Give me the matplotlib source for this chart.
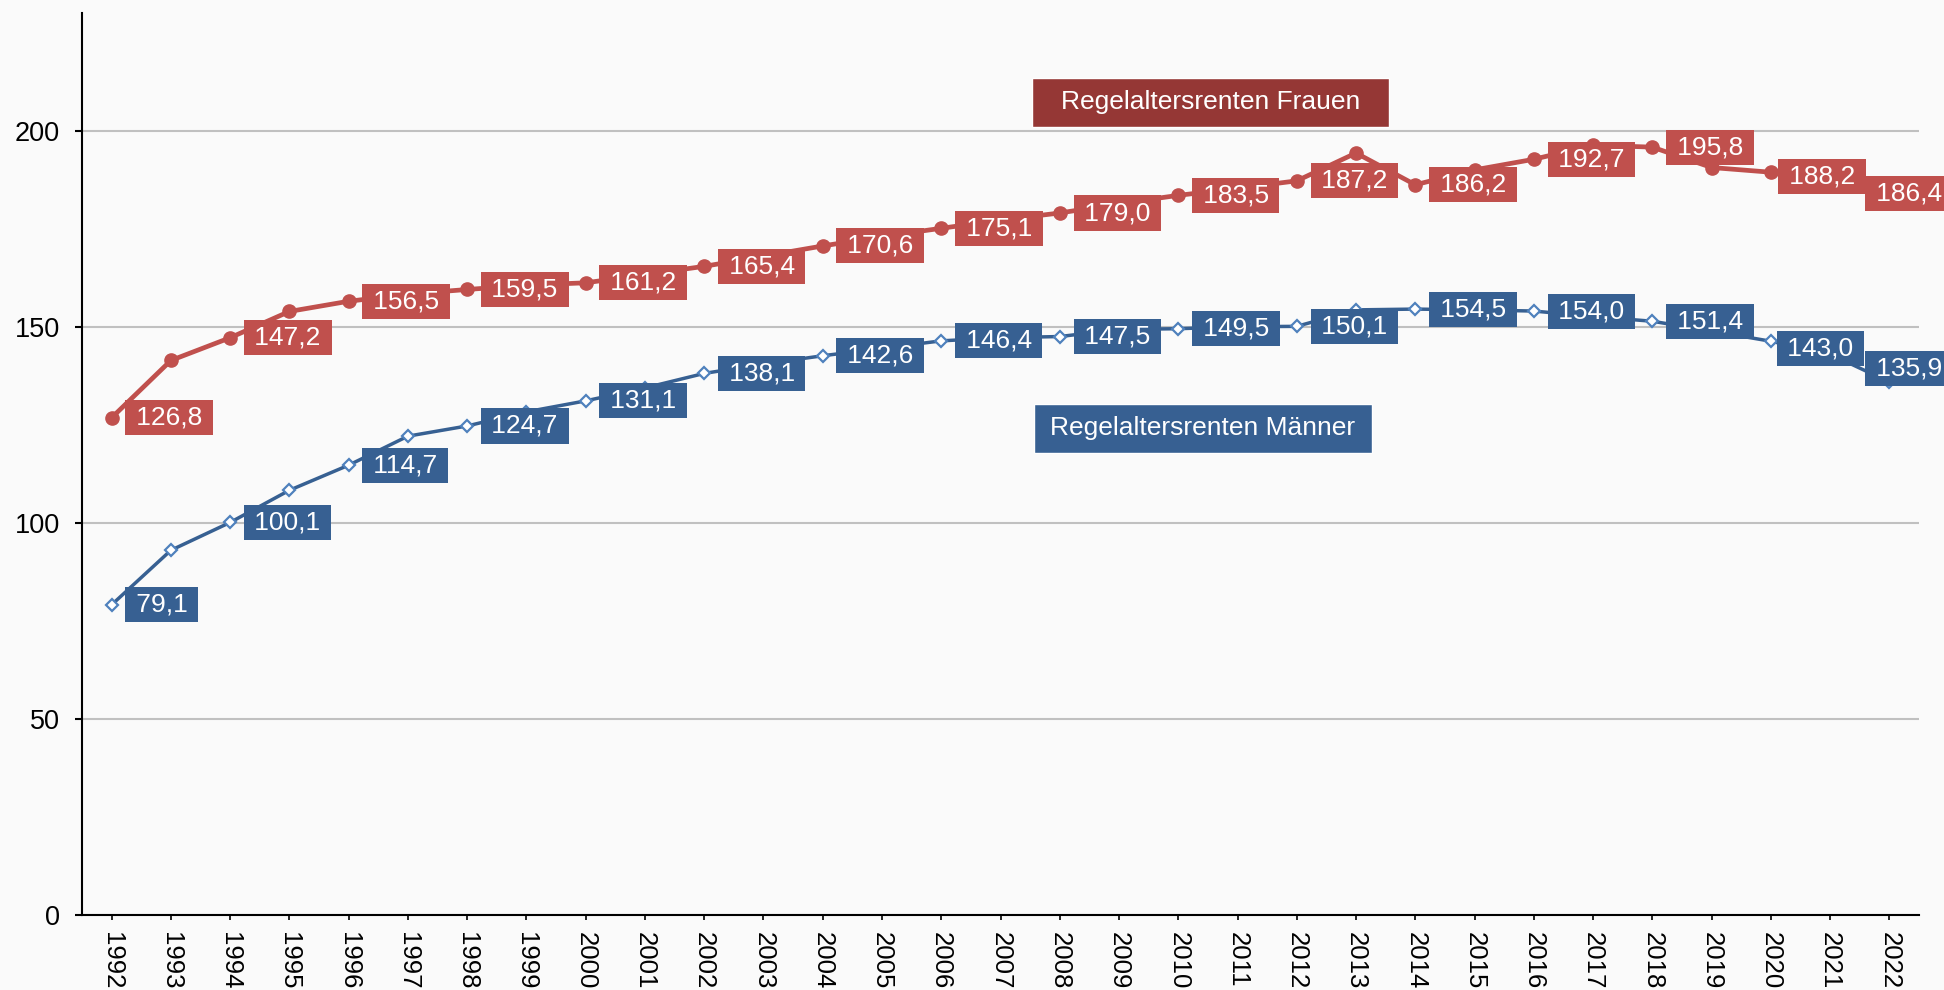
import matplotlib
matplotlib.use("Agg")
import matplotlib.pyplot as plt
from matplotlib.patches import Rectangle

plt.rcParams['font.family'] = ['Liberation Sans', 'DejaVu Sans']

years = list(range(1992, 2023))
frauen = [126.8, 141.4, 147.2, 153.9, 156.5, 158.3, 159.5, 160.6, 161.2, 163.3,
          165.4, 168.0, 170.6, 173.0, 175.1, 177.2, 179.0, 181.4, 183.5, 185.3,
          187.2, 194.3, 186.2, 190.0, 192.7, 196.3, 195.8, 190.6, 189.4, 188.2,
          186.4]
maenner = [79.1, 93.0, 100.1, 108.3, 114.7, 122.1, 124.7, 128.3, 131.1, 134.4,
           138.1, 140.5, 142.6, 144.5, 146.4, 147.2, 147.5, 149.3, 149.5, 150.0,
           150.1, 154.3, 154.5, 154.3, 154.0, 152.6, 151.4, 148.9, 146.3, 143.0,
           135.9]
label_years = list(range(1992, 2019, 2)) + [2021, 2022]
series_names = ["Regelaltersrenten Frauen", "Regelaltersrenten Männer"]
yticks = [0, 50, 100, 150, 200]

RED = "#C0504D"
DARKRED = "#953735"
BLUE = "#376092"
LIGHTBLUE = "#4F81BD"
BG = "#FAFAFA"

fig = plt.figure(figsize=(19.44, 9.90), dpi=100, facecolor=BG)
ax = fig.add_axes([82/1944, 75/990, (1919-82)/1944, (915-13)/990])
ax.set_facecolor(BG)

ax.plot(years, frauen, color=RED, lw=3.4, marker='o', ms=9.5,
        mfc=RED, mec=RED, zorder=3, clip_on=False)
ax.plot(years, maenner, color=BLUE, lw=2.5, marker='D', ms=6.2,
        mfc='white', mec=LIGHTBLUE, mew=1.6, zorder=3, clip_on=False)

ax.set_xlim(1991.5, 2022.5)
ax.set_ylim(0, 230)
ax.set_yticks(yticks)
ax.set_xticks(years)
ax.set_xticklabels([str(y) for y in years], rotation=270, fontsize=18.5)
ax.tick_params(axis='x', length=3.6, width=1.2, pad=8.5, direction='out')
ax.tick_params(axis='y', length=5, width=1.5, pad=11, labelsize=19.5, direction='out')
for lab in ax.get_xticklabels():
    lab.set_va('top')
    lab.set_ha('center')

ax.yaxis.grid(True, color='#C0C0C0', lw=1.5)
ax.set_axisbelow(True)
for s in ['top', 'right']:
    ax.spines[s].set_visible(False)
for s in ['left', 'bottom']:
    ax.spines[s].set_linewidth(1.5)
    ax.spines[s].set_color('black')


def fmt(v):
    return "\u2009" + f"{v:.1f}".replace('.', ',') + "\u2009"


special = {
    ('f', 2021): dict(xytext=(-6, 0), ha='center'),
    ('m', 2021): dict(xytext=(-7, 4), ha='center'),
    ('f', 2022): dict(xytext=(-13.5, -7), ha='left'),
    ('m', 2022): dict(xytext=(-13.5, 10), ha='left'),
}

for key, vals, col in [('f', frauen, RED), ('m', maenner, BLUE)]:
    for y in label_years:
        v = vals[years.index(y)]
        opts = special.get((key, y), dict(xytext=(13.9, 0), ha='left'))
        ax.annotate(fmt(v), xy=(y, v), xytext=opts['xytext'],
                    textcoords='offset points', ha=opts['ha'], va='center',
                    fontsize=19, color='white', zorder=5, annotation_clip=False,
                    bbox=dict(boxstyle='square,pad=0.21', fc=col, ec='none'))

# series name boxes
boxes = [
    (series_names[0], DARKRED, 1032, 78, 357, 49, 1210.8),
    (series_names[1], BLUE, 1034, 404, 338, 49, 1203),
]
for name, col, x0, y0, w, h, xc in boxes:
    fig.patches.append(Rectangle((x0/1944, 1 - (y0+h)/990), w/1944, h/990,
                                 transform=fig.transFigure, fc=col,
                                 ec='white', lw=1, zorder=6))
    fig.text(xc/1944, 1 - (y0 + h/2)/990, name, ha='center', va='center',
             color='white', fontsize=19, zorder=7)

fig.savefig("out.png", dpi=100, facecolor=BG)
